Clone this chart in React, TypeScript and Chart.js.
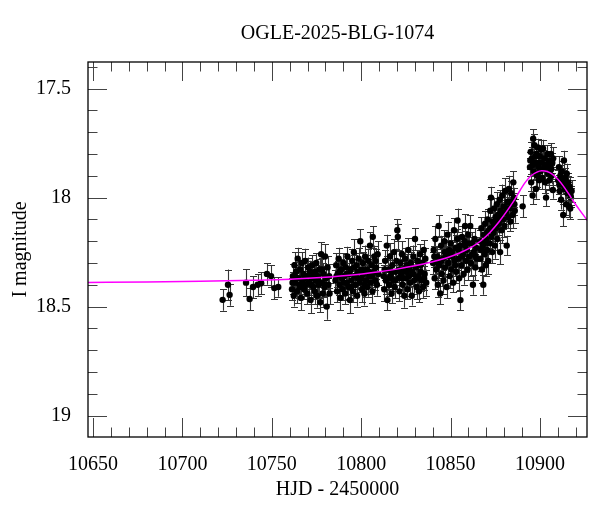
import React, { useEffect, useRef } from "react";
import { Chart, registerables } from "chart.js";

Chart.register(...registerables);

// OGLE I-band photometry: [HJD-2450000, I mag, error]
const seasonEarly: number[][] = [
  [10722.5,18.469,0.05],[10725.5,18.40,0.07],[10726.4,18.446,0.05],[10735.6,18.39,0.063],[10737.6,18.465,0.052],[10739.5,18.41,0.05],[10742.1,18.40,0.05],[10744.1,18.393,0.05],[10747.3,18.35,0.05],[10749.6,18.36,0.05],[10751.4,18.415,0.05],[10753.6,18.41,0.045]
];
const blockB: number[][] = [
  [10761.3,18.42,0.05],[10761.8,18.36,0.055],[10762.3,18.45,0.05],[10762.7,18.31,0.06],[10763.2,18.39,0.05],[10763.6,18.34,0.045],[10764.1,18.43,0.055],[10764.5,18.28,0.05],[10765.0,18.37,0.06],[10765.4,18.41,0.05],[10765.9,18.33,0.045],[10766.3,18.46,0.055],[10766.8,18.30,0.05],[10767.2,18.38,0.06],[10767.7,18.35,0.05],[10768.1,18.42,0.045],[10768.6,18.29,0.055],[10769.0,18.40,0.05],[10769.5,18.36,0.06],[10769.9,18.44,0.05],[10770.4,18.32,0.045],[10770.8,18.39,0.055],[10771.3,18.34,0.05],[10771.7,18.47,0.06],[10772.2,18.37,0.05],[10772.6,18.31,0.045],[10773.1,18.41,0.055],[10773.5,18.35,0.05],[10774.0,18.43,0.06],[10774.4,18.38,0.05],[10774.9,18.30,0.045],[10775.3,18.45,0.055],[10775.8,18.36,0.05],[10776.2,18.40,0.06],[10776.7,18.33,0.05],[10777.1,18.48,0.045],[10777.6,18.26,0.055],[10778.0,18.39,0.05],[10778.5,18.44,0.06],[10778.9,18.35,0.05],[10779.4,18.41,0.045],[10779.8,18.27,0.055],[10780.3,18.37,0.05],[10780.7,18.50,0.06],[10781.2,18.32,0.05],[10781.6,18.40,0.045],[10782.1,18.36,0.055],
  [10761.6,18.39,0.05],[10763.9,18.37,0.05],[10766.0,18.40,0.055],[10768.3,18.37,0.05],[10770.1,18.36,0.05],[10772.0,18.40,0.055],[10774.2,18.34,0.05],[10776.0,18.38,0.05],[10778.2,18.33,0.055],[10780.0,18.40,0.05],[10782.3,18.44,0.05]
];
const blockC: number[][] = [
  [10785.6,18.38,0.05],[10786.0,18.31,0.055],[10786.5,18.43,0.05],[10786.9,18.35,0.06],[10787.4,18.28,0.05],[10787.8,18.40,0.045],[10788.3,18.46,0.055],[10788.7,18.33,0.05],[10789.2,18.37,0.06],[10789.6,18.42,0.05],[10790.1,18.30,0.045],[10790.5,18.36,0.055],[10791.0,18.44,0.05],[10791.4,18.32,0.06],[10791.9,18.39,0.05],[10792.3,18.27,0.045],[10792.8,18.41,0.055],[10793.2,18.35,0.05],[10793.7,18.47,0.06],[10794.1,18.33,0.05],[10794.6,18.38,0.045],[10795.0,18.29,0.055],[10795.5,18.43,0.05],[10795.9,18.25,0.06],[10796.4,18.36,0.05],[10796.8,18.40,0.045],[10797.3,18.31,0.055],[10797.7,18.45,0.05],[10798.2,18.34,0.06],[10798.6,18.28,0.05],[10799.1,18.39,0.045],[10799.5,18.20,0.055],[10800.0,18.37,0.05],[10800.4,18.42,0.06],[10800.9,18.30,0.05],[10801.3,18.35,0.045],[10801.8,18.44,0.055],[10802.2,18.27,0.05],[10802.7,18.38,0.06],[10803.1,18.33,0.05],[10803.6,18.41,0.045],[10804.0,18.29,0.055],[10804.5,18.36,0.05],[10804.9,18.22,0.06],[10805.4,18.39,0.05],[10805.8,18.31,0.045],[10806.3,18.43,0.055],[10806.5,18.18,0.05],[10807.0,18.34,0.06],[10807.4,18.27,0.05],[10807.9,18.38,0.045],[10808.3,18.32,0.055],[10808.8,18.40,0.05],[10809.2,18.26,0.06],[10809.6,18.35,0.05],
  [10786.2,18.36,0.05],[10788.0,18.34,0.05],[10790.3,18.39,0.055],[10792.0,18.35,0.05],[10794.3,18.41,0.05],[10796.1,18.32,0.055],[10798.0,18.37,0.05],[10800.2,18.33,0.05],[10802.0,18.40,0.055],[10804.2,18.34,0.05],[10806.0,18.36,0.05],[10808.1,18.29,0.055]
];
const blockD: number[][] = [
  [10812.5,18.36,0.05],[10812.9,18.42,0.055],[10813.4,18.29,0.05],[10813.8,18.38,0.06],[10814.3,18.22,0.05],[10814.7,18.47,0.045],[10815.2,18.33,0.055],[10815.6,18.40,0.05],[10816.1,18.27,0.06],[10816.5,18.36,0.05],[10817.0,18.44,0.045],[10817.4,18.31,0.055],[10817.9,18.38,0.05],[10818.3,18.25,0.06],[10818.8,18.41,0.05],[10819.2,18.34,0.045],[10819.7,18.29,0.055],[10820.2,18.15,0.05],[10820.5,18.18,0.06],[10821.0,18.37,0.05],[10821.4,18.43,0.045],[10821.9,18.30,0.055],[10822.3,18.35,0.05],[10822.8,18.26,0.06],[10823.2,18.40,0.05],[10823.7,18.33,0.045],[10824.1,18.45,0.055],[10824.6,18.28,0.05],[10825.0,18.37,0.06],[10825.5,18.31,0.05],[10825.9,18.42,0.045],[10826.4,18.24,0.055],[10826.8,18.36,0.05],[10827.3,18.39,0.06],[10827.7,18.30,0.05],[10828.3,18.45,0.045],[10828.7,18.34,0.055],[10829.2,18.27,0.05],[10829.6,18.38,0.06],[10830.1,18.19,0.05],[10830.5,18.32,0.045],[10831.0,18.41,0.055],[10831.4,18.29,0.05],[10831.9,18.36,0.06],[10832.3,18.43,0.05],[10832.8,18.26,0.045],[10833.2,18.34,0.055],[10833.7,18.38,0.05],[10834.1,18.30,0.06],[10834.6,18.41,0.05],[10835.0,18.24,0.045],[10835.5,18.35,0.055],[10835.9,18.28,0.05],[10836.4,18.39,0.06],
  [10813.1,18.33,0.05],[10815.0,18.37,0.05],[10817.2,18.34,0.055],[10819.0,18.38,0.05],[10821.2,18.33,0.05],[10823.0,18.37,0.055],[10825.2,18.34,0.05],[10827.0,18.33,0.05],[10829.0,18.35,0.055],[10831.2,18.37,0.05],[10833.0,18.31,0.05],[10835.2,18.37,0.055]
];
const blockE: number[][] = [
  [10840.2,18.30,0.05],[10840.6,18.24,0.055],[10841.1,18.37,0.05],[10841.5,18.19,0.06],[10842.0,18.33,0.05],[10842.4,18.27,0.045],[10842.9,18.40,0.055],[10843.3,18.13,0.05],[10843.8,18.31,0.06],[10844.2,18.44,0.05],[10844.7,18.22,0.045],[10845.1,18.35,0.055],[10845.6,18.28,0.05],[10846.0,18.38,0.06],[10846.5,18.20,0.05],[10846.9,18.32,0.045],[10847.4,18.26,0.055],[10847.8,18.41,0.05],[10848.3,18.17,0.06],[10848.7,18.30,0.05],[10849.2,18.24,0.045],[10849.6,18.36,0.055],[10850.1,18.21,0.05],[10850.5,18.33,0.06],[10851.0,18.27,0.05],[10851.4,18.39,0.045],[10851.9,18.15,0.055],[10852.3,18.29,0.05],[10852.8,18.23,0.06],[10853.2,18.34,0.05],[10853.7,18.19,0.045],[10853.9,18.105,0.055],[10854.4,18.28,0.05],[10854.8,18.37,0.06],[10855.3,18.22,0.05],[10855.5,18.47,0.045],[10856.0,18.31,0.055],[10856.4,18.18,0.05],[10856.9,18.26,0.06],[10857.3,18.35,0.05],[10857.8,18.20,0.045],[10858.1,18.13,0.055],[10858.6,18.29,0.05],[10859.0,18.24,0.06],[10859.5,18.33,0.05],[10859.9,18.17,0.045],[10860.4,18.27,0.055],[10861.0,18.13,0.05],[10861.4,18.30,0.06],[10861.9,18.21,0.05],[10862.5,18.40,0.045],[10862.9,18.25,0.055],[10863.4,18.19,0.05],[10863.8,18.32,0.06],[10864.3,18.23,0.05],[10864.7,18.28,0.045],
  [10840.9,18.27,0.05],[10842.7,18.30,0.05],[10844.9,18.29,0.055],[10846.7,18.25,0.05],[10848.9,18.27,0.05],[10850.8,18.25,0.055],[10852.6,18.31,0.05],[10854.6,18.24,0.05],[10856.6,18.27,0.055],[10858.4,18.22,0.05],[10860.2,18.21,0.05],[10862.2,18.26,0.055],[10864.0,18.27,0.05]
];
const blockF: number[][] = [
  [10866.5,18.20,0.05],[10866.8,18.28,0.055],[10867.2,18.14,0.05],[10867.5,18.33,0.06],[10867.9,18.22,0.05],[10868.3,18.40,0.045],[10868.6,18.17,0.055],[10869.0,18.26,0.05],[10869.3,18.12,0.06],[10869.7,18.31,0.05],[10870.0,18.19,0.045],[10870.4,18.24,0.055],[10870.7,18.10,0.05],[10871.1,18.29,0.06],[10871.4,18.15,0.05],[10871.8,18.21,0.045],[10872.2,18.06,0.055],[10872.6,18.00,0.05],[10872.9,18.18,0.06],[10873.3,18.25,0.05],[10873.6,18.11,0.045],[10874.0,18.16,0.055],[10874.4,18.05,0.05],[10874.7,18.22,0.06],[10875.1,18.09,0.05],[10875.5,18.14,0.045],[10875.9,18.03,0.055],[10876.2,18.19,0.05],[10876.6,18.08,0.06],[10877.0,18.12,0.05],[10877.4,18.01,0.045],[10877.7,18.25,0.055],[10878.1,18.06,0.05],[10878.5,18.15,0.06],[10878.9,17.99,0.05],[10879.3,18.10,0.045],[10879.7,18.04,0.055],[10880.1,18.13,0.05],[10880.5,17.97,0.06],[10880.9,18.07,0.05],[10881.4,18.22,0.045],[10881.8,18.02,0.055],[10882.2,18.09,0.05],[10882.6,17.96,0.06],[10883.0,18.05,0.05],[10883.5,18.11,0.045],[10883.9,17.98,0.055],[10884.3,18.03,0.05],[10884.7,18.08,0.06],[10885.1,17.93,0.05],[10885.5,18.00,0.045],[10885.9,18.06,0.055],[10890.3,18.04,0.05],
  [10867.0,18.24,0.05],[10868.8,18.21,0.05],[10870.5,18.16,0.055],[10872.4,18.14,0.05],[10874.2,18.12,0.05],[10876.0,18.10,0.055],[10877.9,18.09,0.05],[10879.9,18.07,0.05],[10881.6,18.05,0.055],[10883.7,18.02,0.05],[10885.7,18.03,0.05]
];
const blockPeak: number[][] = [
  [10894.4,17.86,0.04],[10894.8,17.79,0.045],[10895.1,17.93,0.04],[10895.5,17.82,0.05],[10895.9,17.99,0.04],[10896.2,17.73,0.045],[10896.6,17.88,0.04],[10896.9,17.76,0.05],[10897.3,17.84,0.04],[10897.7,17.96,0.045],[10898.0,17.80,0.04],[10898.4,17.90,0.05],[10898.8,17.77,0.04],[10899.1,17.86,0.045],[10899.5,17.92,0.04],[10899.9,17.81,0.05],[10900.2,17.88,0.04],[10900.6,17.78,0.045],[10901.0,17.84,0.04],[10901.3,17.91,0.05],[10901.7,17.775,0.04],[10902.1,17.87,0.045],[10902.4,17.82,0.04],[10902.8,17.93,0.05],[10903.4,18.00,0.04],[10903.8,17.85,0.045],[10904.2,17.80,0.04],[10904.6,17.89,0.05],[10904.9,17.83,0.04],[10905.3,17.92,0.045],[10905.7,17.86,0.04],[10906.1,17.80,0.05],[10906.5,17.90,0.04],[10906.9,17.84,0.045],[10907.2,17.965,0.04],[10907.4,17.82,0.05],
  [10894.6,17.83,0.04],[10896.0,17.85,0.045],[10897.5,17.81,0.04],[10899.3,17.84,0.045],[10900.9,17.87,0.04],[10902.6,17.85,0.045],[10904.4,17.86,0.04],[10906.3,17.87,0.045]
];
const blockLate: number[][] = [
  [10910.2,17.92,0.045],[10910.6,17.86,0.05],[10911.0,17.97,0.045],[10911.4,17.90,0.05],[10911.8,18.01,0.045],[10912.2,17.88,0.05],[10912.6,17.94,0.045],[10913.0,18.08,0.05],[10913.4,17.83,0.045],[10913.8,17.96,0.05],[10914.2,17.91,0.045],[10914.6,18.03,0.05],[10915.0,17.89,0.045],[10915.4,17.98,0.05],[10915.8,17.93,0.045],[10916.2,18.04,0.05],[10916.6,17.95,0.045],[10916.9,18.05,0.05],[10917.3,18.00,0.045],[10917.7,17.97,0.05],
  [10910.8,17.94,0.045],[10912.4,17.92,0.05],[10914.0,17.94,0.045],[10915.6,17.95,0.05],[10917.1,17.99,0.045]
];

// microlensing model curve
const modelHJD = [10647, 10680, 10710, 10740, 10760, 10780, 10795, 10810, 10820, 10830, 10840, 10848, 10855, 10862, 10867, 10872, 10877, 10881, 10885, 10889, 10892, 10895, 10898, 10901, 10904, 10907, 10910, 10913, 10916, 10919, 10922, 10927];
const modelMag = [18.389, 18.387, 18.384, 18.379, 18.374, 18.365, 18.355, 18.340, 18.328, 18.313, 18.294, 18.276, 18.254, 18.226, 18.198, 18.160, 18.112, 18.068, 18.020, 17.965, 17.928, 17.900, 17.884, 17.877, 17.880, 17.893, 17.916, 17.946, 17.982, 18.020, 18.055, 18.110];

const titleText = "OGLE-2025-BLG-1074";
const xTitle = "HJD - 2450000";
const yTitle = "I magnitude";
const xRange = [10647.2, 10926.3];
const yRange = [17.378, 19.098];

const FONT = "'Liberation Serif', 'Times New Roman', serif";

export default function App() {
  const ref = useRef<HTMLCanvasElement | null>(null);
  useEffect(() => {
    document.body.style.margin = "0";
    const canvas = ref.current;
    if (!canvas) return;
    const obs = [...seasonEarly, ...blockB, ...blockC, ...blockD, ...blockE, ...blockF, ...blockPeak, ...blockLate];
    const pts = obs.map((d) => ({ x: d[0], y: d[1] }));
    const model = modelHJD.map((x, i) => ({ x, y: modelMag[i] }));

    const errorBars = {
      id: "errorBars",
      beforeDatasetsDraw(chart: any) {
        const { ctx, chartArea: a, scales } = chart;
        const xs = scales.x, ys = scales.y;
        ctx.save();
        ctx.beginPath();
        ctx.rect(a.left, a.top, a.right - a.left, a.bottom - a.top);
        ctx.clip();
        ctx.strokeStyle = "rgba(30,30,30,0.9)";
        ctx.lineWidth = 1.1;
        ctx.beginPath();
        obs.forEach((d) => {
          const px = Math.round(xs.getPixelForValue(d[0])) + 0.5;
          const y1 = ys.getPixelForValue(d[1] - d[2]);
          const y2 = ys.getPixelForValue(d[1] + d[2]);
          ctx.moveTo(px, y1); ctx.lineTo(px, y2);
          ctx.moveTo(px - 3.5, Math.round(y1) + 0.5); ctx.lineTo(px + 3.5, Math.round(y1) + 0.5);
          ctx.moveTo(px - 3.5, Math.round(y2) + 0.5); ctx.lineTo(px + 3.5, Math.round(y2) + 0.5);
        });
        ctx.stroke();
        ctx.restore();
      },
    };

    const frame = {
      id: "frame",
      afterDatasetsDraw(chart: any) {
        const { ctx, chartArea: a, scales } = chart;
        const xs = scales.x, ys = scales.y;
        ctx.save();
        ctx.strokeStyle = "#444";
        ctx.lineWidth = 1;
        ctx.beginPath();
        xs.ticks.forEach((t: any) => {
          const v = t.value;
          const px = Math.round(xs.getPixelForValue(v)) + 0.5;
          if (px < a.left || px > a.right) return;
          const major = Math.abs(v / 50 - Math.round(v / 50)) < 1e-6;
          const len = major ? 19 : 9.5;
          ctx.moveTo(px, a.bottom); ctx.lineTo(px, a.bottom - len);
          ctx.moveTo(px, a.top); ctx.lineTo(px, a.top + len);
        });
        ys.ticks.forEach((t: any) => {
          const v = t.value;
          const py = Math.round(ys.getPixelForValue(v)) + 0.5;
          if (py < a.top || py > a.bottom) return;
          const major = Math.abs(v * 2 - Math.round(v * 2)) < 1e-6;
          const len = major ? 19 : 9.5;
          ctx.moveTo(a.left, py); ctx.lineTo(a.left + len, py);
          ctx.moveTo(a.right, py); ctx.lineTo(a.right - len, py);
        });
        ctx.stroke();
        ctx.strokeStyle = "#000";
        ctx.lineWidth = 1.3;
        ctx.strokeRect(a.left, a.top, a.right - a.left, a.bottom - a.top);
        ctx.restore();
      },
    };

    const chart = new Chart(canvas, {
      type: "scatter",
      data: {
        datasets: [
          {
            type: "line",
            label: "model",
            data: model,
            borderColor: "#ff00ff",
            borderWidth: 1.5,
            pointRadius: 0,
            cubicInterpolationMode: "monotone",
            fill: false,
          } as any,
          {
            type: "scatter",
            label: "OGLE",
            data: pts,
            pointRadius: 3.2,
            pointBackgroundColor: "#000",
            pointBorderWidth: 0,
            borderColor: "#000",
          } as any,
        ],
      },
      options: {
        animation: false,
        responsive: false,
        events: [],
        layout: { padding: { left: 0, right: 13, top: 0, bottom: 0 } },
        plugins: {
          legend: { display: false },
          tooltip: { enabled: false },
          title: {
            display: true,
            text: titleText,
            fullSize: false,
            color: "#000",
            font: { family: FONT, size: 20, weight: "normal" },
            padding: { top: 22, bottom: 16 },
          },
        },
        scales: {
          x: {
            type: "linear",
            min: xRange[0],
            max: xRange[1],
            grid: { display: false },
            border: { display: false },
            afterFit: (s: any) => { s.height = 75; },
            ticks: {
              stepSize: 10,
              autoSkip: false,
              includeBounds: false,
              maxRotation: 0,
              padding: 8,
              color: "#000",
              font: { family: FONT, size: 20 },
              callback: (v: any) => (Math.abs(v / 50 - Math.round(v / 50)) < 1e-6 ? String(Math.round(v)) : ""),
            },
            title: {
              display: true,
              text: xTitle,
              color: "#000",
              font: { family: FONT, size: 20 },
              padding: { top: 0, bottom: 10 },
            },
          },
          y: {
            type: "linear",
            reverse: true,
            min: yRange[0],
            max: yRange[1],
            grid: { display: false },
            border: { display: false },
            afterFit: (s: any) => { s.width = 88; },
            ticks: {
              stepSize: 0.1,
              autoSkip: false,
              includeBounds: false,
              padding: 9,
              color: "#000",
              font: { family: FONT, size: 20 },
              callback: (v: any) => (Math.abs(v * 2 - Math.round(v * 2)) < 1e-6 ? String(Math.round(v * 10) / 10) : ""),
            },
            title: {
              display: true,
              text: yTitle,
              color: "#000",
              font: { family: FONT, size: 20 },
              padding: { top: 9, bottom: 0 },
            },
          },
        },
      } as any,
      plugins: [errorBars, frame],
    });
    return () => chart.destroy();
  }, []);
  return (
    <div style={{ width: 600, height: 512 }}>
      <canvas ref={ref} width={600} height={512} style={{ display: "block" }} />
    </div>
  );
}
